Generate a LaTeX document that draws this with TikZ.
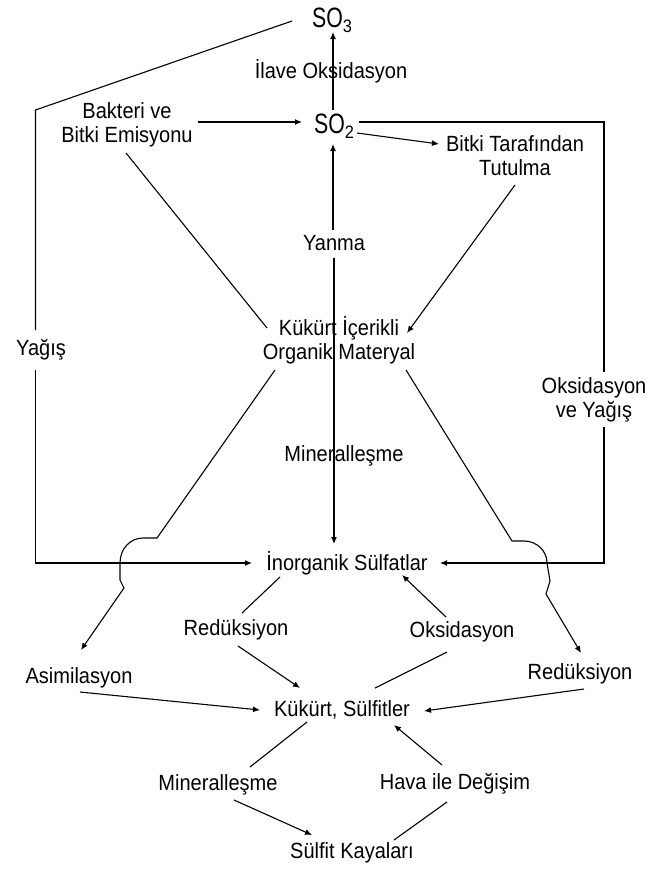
\documentclass[tikz,border=0pt]{standalone}
\usepackage{fontspec}
\setmainfont{Liberation Sans}[FakeStretch=0.91]
\newfontfamily\sofam{Liberation Sans}[FakeStretch=0.76]
\usetikzlibrary{arrows.meta}
\newcommand\lblfont{\fontsize{22}{24}\selectfont}
\newcommand\sochem[1]{{\fontsize{28}{28}\selectfont\sofam SO}\raisebox{-5pt}{\fontsize{18}{18}\selectfont #1}}
\begin{document}
\begin{tikzpicture}[x=1pt,y=-1pt,
  lbl/.style={inner sep=0pt,align=center,font=\lblfont},
  ln/.style={line width=1.1pt},
  arr/.style={ln,-{Latex[length=7pt,width=6pt]}}]
\fill[white] (0,0) rectangle (651,871);
\useasboundingbox (0,0) rectangle (651,871);

% nodes
\node[lbl] (so3) at (332,20) {\sochem{3}};
\node[lbl] (ilave) at (331,71) {İlave Oksidasyon};
\node[lbl] (bak) at (127,125) {Bakteri ve\\Bitki Emisyonu};
\node[lbl] (so2) at (334,126) {\sochem{2}};
\node[lbl] (bitki) at (515,155.5) {Bitki Tarafından\\Tutulma};
\node[lbl] (yanma) at (334,243) {Yanma};
\node[lbl] (kic) at (339,340.5) {Kükürt İçerikli\\Organik Materyal};
\node[lbl] (yagis) at (41,350) {Yağış};
\node[lbl] (oksy) at (594,400) {Oksidasyon\\ve Yağış};
\node[lbl] (min1) at (344,456) {Mineralleşme};
\node[lbl] (inorg) at (347,563) {İnorganik Sülfatlar};
\node[lbl] (red1) at (236,630) {Redüksiyon};
\node[lbl] (oks1) at (462,632) {Oksidasyon};
\node[lbl] (asim) at (79,678) {Asimilasyon};
\node[lbl] (red2) at (580,674) {Redüksiyon};
\node[lbl] (ks) at (342,710) {Kükürt, Sülfitler};
\node[lbl] (min2) at (218,785) {Mineralleşme};
\node[lbl] (hava) at (455,784) {Hava ile Değişim};
\node[lbl] (sk) at (352,853) {Sülfit Kayaları};

% corner coordinates
\coordinate (ctl) at (35.5,110);
\coordinate (cbl) at (35.5,563);
\coordinate (ctr) at (604,122);
\coordinate (cbr) at (604,563);
\coordinate (lh1) at (157,538);
\coordinate (lh2) at (143,538);
\coordinate (lh3) at (120,563);
\coordinate (lh4) at (120,580);
\coordinate (lh5) at (124,588);
\coordinate (rh1) at (512,541);
\coordinate (rh2) at (524,541);
\coordinate (rh3) at (547,563);
\coordinate (rh4) at (550,581);
\coordinate (rh5) at (546,594);

% outer loops
\draw[ln] ([shift={(-40,1)}]so3.center) -- (ctl) -- ([shift={(-5.5,-20)}]yagis.center);
\draw[arr] ([shift={(-5.5,20)}]yagis.center) -- (cbl) -- ([shift={(-95,0)}]inorg.center);
\draw[ln] ([shift={(25,-4)}]so2.center) -- (ctr) -- ([shift={(10,-28)}]oksy.center);
\draw[arr] ([shift={(10,27)}]oksy.center) -- (cbr) -- ([shift={(93,0)}]inorg.center);

% upper part
\draw[arr] ([shift={(-1,-16)}]so2.center) -- ([shift={(1,12)}]so3.center);
\draw[arr] ([shift={(71,-3)}]bak.center) -- ([shift={(-32,-4)}]so2.center);
\draw[arr] ([shift={(23,7)}]so2.center) -- ([shift={(-76,-11.5)}]bitki.center);
\draw[arr] ([shift={(-1,-13)}]yanma.center) -- ([shift={(-1,18)}]so2.center);
\draw[ln] ([shift={(-1,28)}]bak.center) -- ([shift={(-72,-12.5)}]kic.center);
\draw[arr] ([shift={(0,29.5)}]bitki.center) -- ([shift={(68,-7.5)}]kic.center);
\draw[arr] ([shift={(0,15)}]yanma.center) -- ([shift={(-13,-19)}]inorg.center);

% hops
\draw[arr] ([shift={(-64,29.5)}]kic.center) -- (lh1) -- (lh2)
  .. controls (130,538) and (120,549) .. (lh3) -- (lh4) -- (lh5)
  -- ([shift={(2,-28)}]asim.center);
\draw[arr] ([shift={(67,29.5)}]kic.center) -- (rh1) -- (rh2)
  .. controls (537,541) and (547,551) .. (rh3)
  .. controls (548,572) .. (rh4) -- (rh5)
  -- ([shift={(1,-21)}]red2.center);

% lower part
\draw[ln] ([shift={(-67,14)}]inorg.center) -- ([shift={(6,-17)}]red1.center);
\draw[arr] ([shift={(-16,-15)}]oks1.center) -- ([shift={(55,12)}]inorg.center);
\draw[arr] ([shift={(2,16)}]red1.center) -- ([shift={(-42,-22)}]ks.center);
\draw[ln] ([shift={(33,-22)}]ks.center) -- ([shift={(-15,20)}]oks1.center);
\draw[arr] ([shift={(1,14)}]asim.center) -- ([shift={(-82,0)}]ks.center);
\draw[arr] ([shift={(4,15)}]red2.center) -- ([shift={(82,1)}]ks.center);
\draw[ln] ([shift={(-35,12)}]ks.center) -- ([shift={(32,-18)}]min2.center);
\draw[arr] ([shift={(16,15)}]min2.center) -- ([shift={(-40,-18)}]sk.center);
\draw[ln] ([shift={(42,-13)}]sk.center) -- ([shift={(-8,18)}]hava.center);
\draw[arr] ([shift={(-13,-19)}]hava.center) -- ([shift={(52,15)}]ks.center);
\end{tikzpicture}
\end{document}
